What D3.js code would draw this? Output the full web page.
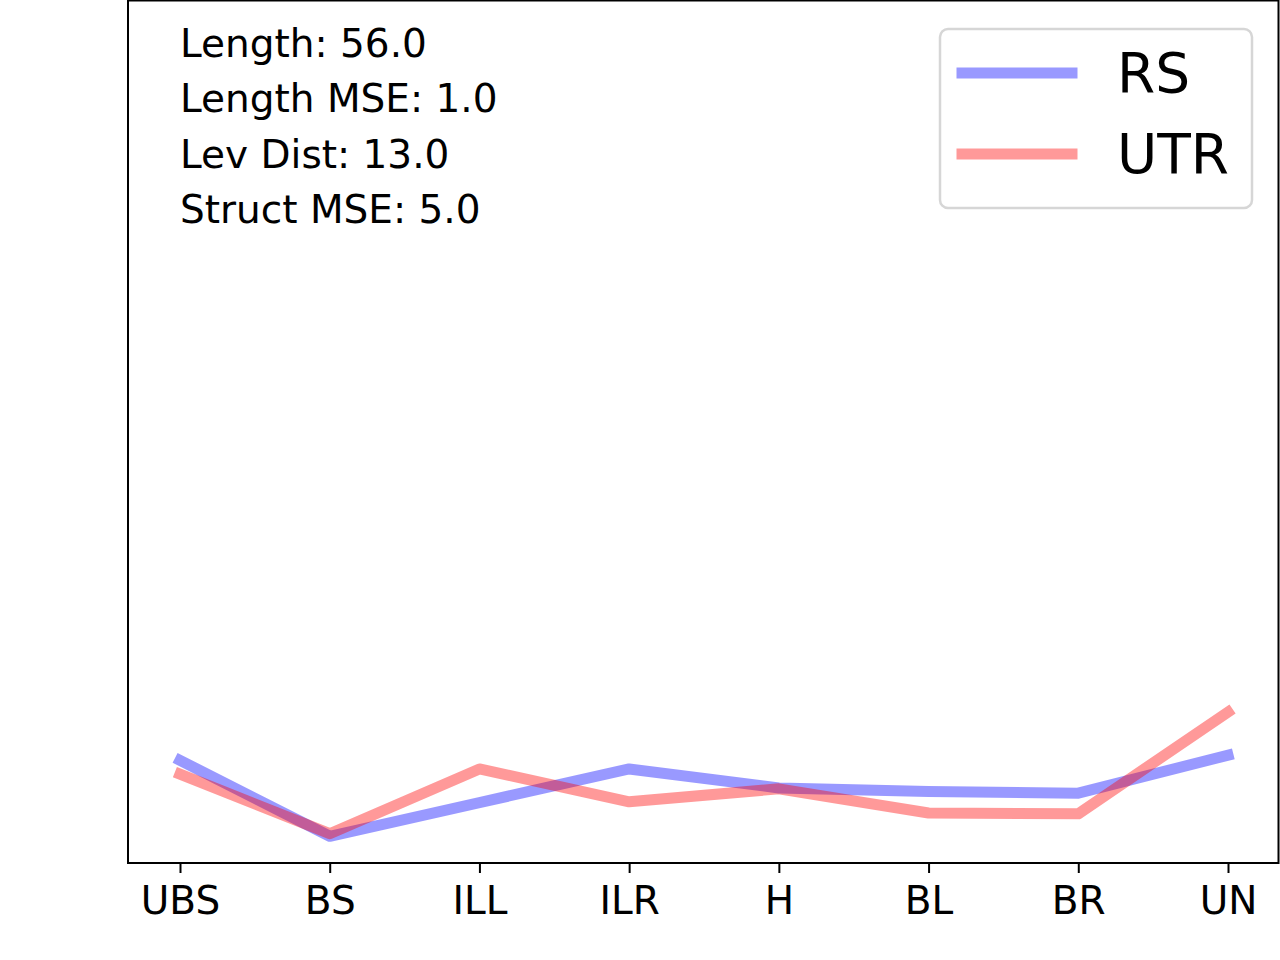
<!DOCTYPE html>
<html>
<head>
<meta charset="utf-8">
<script src="https://cdn.jsdelivr.net/npm/d3@7"></script>
<style>
  html, body { margin: 0; padding: 0; background: #fff; }
  svg { display: block; font-family: "DejaVu Sans", sans-serif; }
</style>
</head>
<body>
<div id="chart"></div>
<script>
// Categories along the x axis
const categories = ['UBS', 'BS', 'ILL', 'ILR', 'H', 'BL', 'BR', 'UN'];

// Series values (arbitrary units)
const rsValues  = [0.119, 0.031, 0.070, 0.109, 0.087, 0.083, 0.081, 0.125];
const utrValues = [0.103, 0.034, 0.109, 0.071, 0.086, 0.058, 0.057, 0.175];

const seriesNames = ['RS', 'UTR'];
const seriesColors = ['#0000ff', '#ff0000'];

// Stats shown top-left
const statLines = ['Length: 56.0', 'Length MSE: 1.0', 'Lev Dist: 13.0', 'Struct MSE: 5.0'];

const width = 1280, height = 960;
const margin = { top: 0.5, right: 1.5, bottom: 97, left: 128 };

const svg = d3.select('#chart').append('svg')
    .attr('width', width)
    .attr('height', height);

const x = d3.scalePoint()
    .domain(categories)
    .range([180, 1228]);

const y = d3.scaleLinear()
    .domain([0, 1])
    .range([height - margin.bottom, margin.top]);

// Lines
const line = d3.line()
    .x((d, i) => x(categories[i]))
    .y(d => y(d));

const series = [rsValues, utrValues];
series.forEach((vals, i) => {
    svg.append('path')
        .datum(vals)
        .attr('d', line)
        .attr('fill', 'none')
        .attr('stroke', seriesColors[i])
        .attr('stroke-opacity', 0.4)
        .attr('stroke-width', 11)
        .attr('stroke-linecap', 'square')
        .attr('stroke-linejoin', 'round');
});

// Axis box
svg.append('rect')
    .attr('x', margin.left)
    .attr('y', margin.top)
    .attr('width', width - margin.right - margin.left)
    .attr('height', height - margin.bottom - margin.top)
    .attr('fill', 'none')
    .attr('stroke', '#000')
    .attr('stroke-width', 2);

// X axis
const xAxis = svg.append('g')
    .attr('transform', `translate(0,${height - margin.bottom})`)
    .call(d3.axisBottom(x).tickSize(10).tickPadding(13));
xAxis.select('.domain').remove();
xAxis.selectAll('line').attr('stroke', '#000').attr('stroke-width', 2);
xAxis.selectAll('text')
    .attr('font-size', 39)
    .attr('font-family', 'DejaVu Sans')
    .attr('fill', '#000');

// Stats text
svg.append('g').selectAll('text')
    .data(statLines)
    .join('text')
    .attr('x', 180)
    .attr('y', (d, i) => 57 + i * 55.3)
    .attr('font-size', 39)
    .attr('fill', '#000')
    .text(d => d);

// Legend
const legend = svg.append('g');
legend.append('rect')
    .attr('x', 940)
    .attr('y', 29)
    .attr('width', 312)
    .attr('height', 179)
    .attr('rx', 8)
    .attr('fill', '#fff')
    .attr('fill-opacity', 0.8)
    .attr('stroke', '#d6d6d6')
    .attr('stroke-width', 2.5);

seriesNames.forEach((name, i) => {
    const ly = 73 + i * 81;
    legend.append('line')
        .attr('x1', 962).attr('x2', 1072)
        .attr('y1', ly).attr('y2', ly)
        .attr('stroke', seriesColors[i])
        .attr('stroke-opacity', 0.4)
        .attr('stroke-width', 11)
        .attr('stroke-linecap', 'square');
    legend.append('text')
        .attr('x', 1117)
        .attr('y', ly + 19)
        .attr('font-size', 55)
        .attr('fill', '#000')
        .text(name);
});
</script>
</body>
</html>
